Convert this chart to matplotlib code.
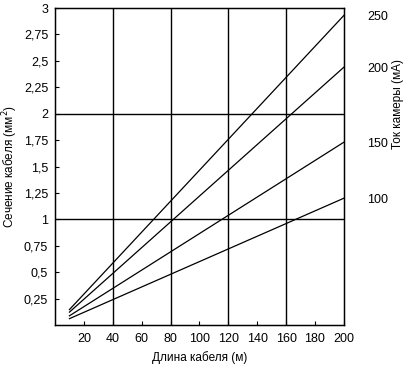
"""
Cable cross-section vs cable length for several chamber currents.
"""
import matplotlib
matplotlib.use('Agg')
import matplotlib.pyplot as plt
from matplotlib.ticker import FuncFormatter

plt.rcParams['font.family'] = ['Liberation Sans', 'DejaVu Sans']

# Data: cable length (m) and required cross-section (mm^2) for each chamber current
length_m = [10, 200]
section_250mA = [0.146, 2.93]
section_200mA = [0.122, 2.44]
section_150mA = [0.087, 1.73]
section_100mA = [0.060, 1.20]
current_labels = ['250', '200', '150', '100']

x_ticks = [20, 40, 60, 80, 100, 120, 140, 160, 180, 200]
y_ticks = [0.25, 0.5, 0.75, 1, 1.25, 1.5, 1.75, 2, 2.25, 2.5, 2.75, 3]
v_grid = [40, 80, 120, 160]
h_grid = [1, 2]

fig = plt.figure(figsize=(4.06, 3.65), dpi=100)
ax = fig.add_axes([0.1355, 0.1096, 0.7115, 0.8684])

for v in v_grid:
    ax.axvline(v, color='black', lw=1.0)
for h in h_grid:
    ax.axhline(h, color='black', lw=1.0)

series = [section_250mA, section_200mA, section_150mA, section_100mA]
for s in series:
    ax.plot(length_m, s, color='black', lw=0.9)

ax.set_xlim(0, 200)
ax.set_ylim(0, 3)
ax.set_xticks(x_ticks)
ax.set_yticks(y_ticks)
ax.yaxis.set_major_formatter(FuncFormatter(lambda v, p: f'{v:g}'.replace('.', ',')))
ax.tick_params(direction='in', length=3, width=0.8, labelsize=9, colors='black')
ax.tick_params(axis='x', pad=6)
ax.tick_params(axis='y', pad=5)
for sp in ax.spines.values():
    sp.set_linewidth(1.0)

ax.set_xlabel('Длина кабеля (м)', fontsize=8.5, labelpad=4)
ax.set_ylabel('Сечение кабеля (мм$^2$)', fontsize=8.5)
ax.yaxis.set_label_coords(-0.12, 0.5)

# Right axis: chamber current labels at the line ends
ax2 = ax.twinx()
ax2.set_ylim(0, 3)
ax2.set_yticks([s[-1] for s in series])
ax2.set_yticklabels(current_labels)
ax2.tick_params(length=0, labelsize=9, pad=17)
fig.text(0.980, 0.715, 'Ток камеры (мА)', rotation=90, fontsize=8.5,
         ha='center', va='center')

fig.savefig('out.png', dpi=100)
